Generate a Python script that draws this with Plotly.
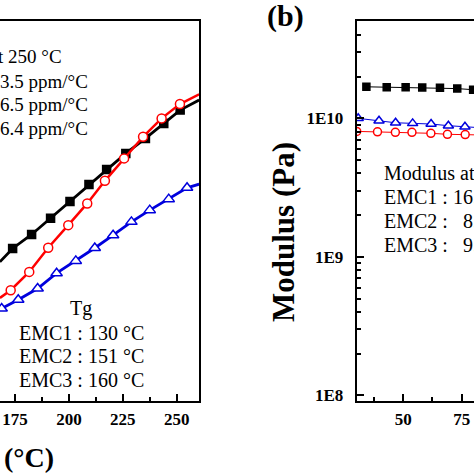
import plotly.graph_objects as go

# ---------------- data (left panel: thermal expansion, arbitrary units) ----------------
emc1_T = [173.9, 182.7, 191.5, 200.5, 209.3, 217.5, 226.4, 235.5, 244.0, 251.6]
emc1_d = [15.24, 16.64, 18.27, 19.94, 21.64, 23.14, 24.74, 26.24, 27.74, 29.07]
emc1_T_line = [168.0] + emc1_T + [260.4]
emc1_d_line = [13.90] + emc1_d + [30.07]

emc2_T = [173.0, 181.6, 190.4, 199.7, 208.5, 216.7, 225.6, 234.4, 243.0, 251.5]
emc2_d = [11.07, 12.90, 15.32, 17.57, 19.74, 22.00, 24.24, 26.40, 28.24, 29.67]
emc2_T_line = [168.0] + emc2_T + [260.4]
emc2_d_line = [10.30] + emc2_d + [30.64]

emc3_T = [168.8, 176.5, 185.5, 194.3, 203.2, 212.0, 220.5, 229.0, 237.5, 246.3, 254.8]
emc3_d = [9.24, 10.12, 11.24, 12.77, 14.00, 15.29, 16.57, 17.90, 19.07, 20.17, 21.30]
emc3_T_line = [168.0] + emc3_T + [260.4]
emc3_d_line = [9.17] + emc3_d + [21.67]

# ---------------- data (right panel: modulus, Pa) ----------------
mod1_T = [34.2, 42.9, 51.0, 58.1, 65.7, 73.1, 79.9]
mod1_E = [1.69e10, 1.68e10, 1.68e10, 1.67e10, 1.66e10, 1.64e10, 1.61e10]
mod2_T = [30.05, 38.95, 46.6, 53.7, 61.8, 68.9, 76.5]
mod2_E = [8.05e9, 8.00e9, 7.93e9, 7.93e9, 7.80e9, 7.67e9, 7.64e9]
mod3_T = [30.7, 39.6, 46.7, 54.0, 61.9, 69.3, 76.4]
mod3_E = [1.00e10, 9.62e9, 9.29e9, 9.20e9, 9.10e9, 8.85e9, 8.69e9]

left_xticks = [175, 200, 225, 250]
right_xticks = [50, 75]
right_yticks = [1e8, 1e9, 1e10]
right_yticktext = ["1E8", "1E9", "1E10"]
right_yminor = [m * 10 ** e for e in (8, 9, 10) for m in range(2, 10)]

tg_lines = ["EMC1 : 130 °C", "EMC2 : 151 °C", "EMC3 : 160 °C"]
cte_lines = ["3.5 ppm/°C", "6.5 ppm/°C", "6.4 ppm/°C"]
mod_lines = ["EMC1 : 16.", "EMC2 : \u00a0\u00a08.", "EMC3 : \u00a0\u00a09."]

# ---------------- figure ----------------
W, H = 474, 474
TOP, BOT = 21, 401
SERIF = "Liberation Serif"

BLACK = "#000000"
RED = "#ff0000"
BLUE = "#0000dd"

fig = go.Figure()

def add_series(xl, yl, xm, ym, color, symbol, size, fill, lw, xa, ya):
    fig.add_trace(go.Scatter(x=xl, y=yl, mode="lines", line=dict(color=color, width=lw),
                             xaxis=xa, yaxis=ya, showlegend=False, hoverinfo="skip"))
    fig.add_trace(go.Scatter(x=xm, y=ym, mode="markers",
                             marker=dict(symbol=symbol, size=size, color=fill,
                                         line=dict(color=color, width=1.5)),
                             xaxis=xa, yaxis=ya, showlegend=False))

# left panel
add_series(emc1_T_line, emc1_d_line, emc1_T, emc1_d, BLACK, "square", 8, BLACK, 2.8, "x", "y")
add_series(emc2_T_line, emc2_d_line, emc2_T, emc2_d, RED, "circle", 9, "white", 2.5, "x", "y")
add_series(emc3_T_line, emc3_d_line, emc3_T, emc3_d, BLUE, "triangle-up", 10, "white", 2.8, "x", "y")

# right panel
add_series(mod1_T + [81.0], mod1_E + [1.60e10], mod1_T, mod1_E, BLACK, "square", 7, BLACK, 1, "x2", "y2")
add_series(mod2_T + [81.0], mod2_E + [7.6e9], mod2_T, mod2_E, RED, "circle", 8, "white", 1, "x2", "y2")
add_series(mod3_T + [81.0], mod3_E + [8.6e9], mod3_T, mod3_E, BLUE, "triangle-up", 9, "white", 1, "x2", "y2")

tickfont = dict(family=SERIF, size=17, color="black", weight="bold")

fig.update_layout(
    width=W, height=H,
    margin=dict(l=0, r=0, t=TOP, b=H - BOT),
    paper_bgcolor="white", plot_bgcolor="white",
    xaxis=dict(domain=[0, 199 / W], range=[168.04, 260.34], anchor="y",
               tickmode="array", tickvals=left_xticks, ticks="inside", ticklen=7, tickwidth=1.5,
               tickcolor="black", minor=dict(ticks="inside", ticklen=4, tickwidth=1.5, tickcolor="black",
                                             tickmode="linear", tick0=0, dtick=12.5),
               showline=True, linewidth=2, linecolor="black", mirror=True,
               showgrid=False, zeroline=False, tickfont=tickfont, ticklabelstandoff=2),
    yaxis=dict(domain=[0, 1], range=[0, 37.97], anchor="x", side="right",
               showline=True, linewidth=2, linecolor="black", mirror=False,
               ticks="", showticklabels=False, showgrid=False, zeroline=False),
    xaxis2=dict(domain=[356.7 / W, 1], range=[30.05, 80.27], anchor="y2",
                tickmode="array", tickvals=right_xticks, ticks="inside", ticklen=7, tickwidth=1.5,
                tickcolor="black", minor=dict(ticks="inside", ticklen=4, tickwidth=1.5, tickcolor="black",
                                              tickmode="linear", tick0=0, dtick=12.5),
                showline=True, linewidth=2, linecolor="black", mirror=True,
                showgrid=False, zeroline=False, tickfont=tickfont, ticklabelstandoff=2),
    yaxis2=dict(domain=[0, 1], type="log", range=[7.959, 10.703], anchor="x2",
                tickmode="array", tickvals=right_yticks, ticktext=right_yticktext,
                ticks="inside", ticklen=7, tickwidth=1.5, tickcolor="black",
                minor=dict(tickmode="array", tickvals=right_yminor, ticks="inside", ticklen=4,
                           tickwidth=1.5, tickcolor="black"),
                showline=True, linewidth=2, linecolor="black", mirror=False,
                showgrid=False, zeroline=False, tickfont=tickfont, ticklabelstandoff=8),
)

def px_x(x):
    return x / W

def px_y(y):
    return 1 - (y - TOP) / (BOT - TOP)

def note(text, x, y, xanchor="left", size=20, bold=False, angle=0):
    fig.add_annotation(text=text, x=px_x(x), y=px_y(y), xref="paper", yref="paper",
                       xanchor=xanchor, yanchor="middle", showarrow=False, textangle=angle,
                       font=dict(family=SERIF, size=size, color="black",
                                 weight="bold" if bold else "normal"))

# left panel texts
note("t 250 °C", 64, 57, xanchor="right", size=19)
for i, t in enumerate(cte_lines):
    note(t, 90, 81 + 23.7 * i, xanchor="right", size=19)
note("Tg", 81, 308.5, xanchor="center")
for i, t in enumerate(tg_lines):
    note(t, 17, 332.5 + 23.5 * i)
note("(°C)", 56, 458, xanchor="right", size=28, bold=True)

# right panel texts
note("(b)", 285, 16, xanchor="center", size=30, bold=True)
note("Modulus (Pa)", 284, 232, xanchor="center", size=31, bold=True, angle=-90)
note("Modulus at", 382, 173)
for i, t in enumerate(mod_lines):
    note(t, 382, 197 + 24 * i)

fig.write_html("out.html", config={"displayModeBar": False},
               post_script="document.body.style.margin='0px';document.body.style.overflow='hidden';")
